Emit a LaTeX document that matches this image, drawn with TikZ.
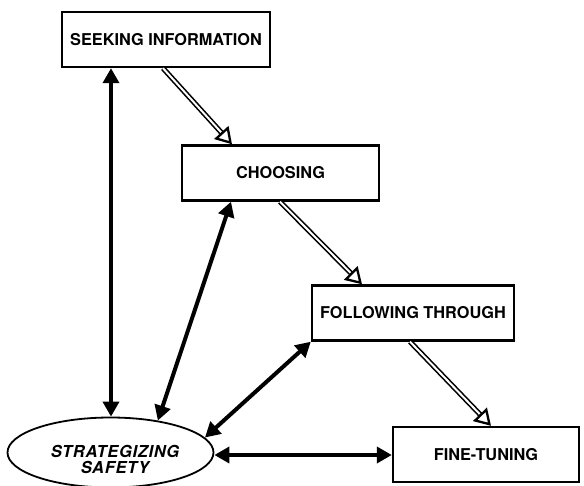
\documentclass[tikz,border=0pt]{standalone}
\usepackage{fontspec}
\setmainfont{TeX Gyre Heros}
\usetikzlibrary{arrows.meta,calc,shapes.geometric}
\begin{document}
\begin{tikzpicture}[x=1pt,y=-1pt,
  stage/.style={draw,line width=2.4pt,minimum width=#1,minimum height=55pt,inner sep=0pt,
    font=\fontsize{16.3}{18}\selectfont\bfseries},
  hub/.style={draw,ellipse,line width=1.8pt,minimum width=206pt,minimum height=70pt,inner sep=0pt},
  hubtext/.style={inner sep=0pt,align=center,
    font=\fontsize{16.5}{16.7}\selectfont\bfseries\itshape\addfontfeatures{LetterSpace=4}},
  link/.style={line width=4pt,{Triangle[length=15pt,width=16pt]}-{Triangle[length=15pt,width=16pt]}},
  flow/.style={draw,double,double distance=2pt,line width=1.6pt},
  flowtip/.style={line width=2.3pt,-{Triangle[open,length=16pt,width=19pt]}}
]
\useasboundingbox (0,0) rectangle (584,486);

% stages of the process
\node[stage=208pt] (seek) at (166,39.5) {SEEKING INFORMATION};
\node[stage=197pt] (choose) at (280.5,173) {CHOOSING};
\node[stage=202pt] (follow) at (413,313) {FOLLOWING THROUGH};
\node[stage=186pt] (tune) at (486,454.5) {FINE-TUNING};
\node[hub] (safe) at (110.5,452.5) {};
\node[hubtext] (safetxt) at (115,459.5) {STRATEGIZING\\SAFETY};

% attachment points on the boxes
\coordinate (s1) at (seek.south -| 111,0);
\coordinate (s2) at (seek.south -| 163,0);
\coordinate (c1) at (choose.north -| 232,0);
\coordinate (c2) at (choose.south -| 231,0);
\coordinate (c3) at (choose.south -| 280,0);
\coordinate (f1) at (follow.north -| 362,0);
\coordinate (f2) at (follow.south west);
\coordinate (f3) at (follow.south -| 410,0);
\coordinate (t1) at (tune.north -| 491,0);
\coordinate (t2) at (tune.west |- 0,455);

% links to the central strategy
\draw[link] (s1) -- (safe.north -| s1);
\draw[link] (c2) -- (safe.34);
\draw[link] (f2) -- (safe.9);
\draw[link] (safe.east |- t2) -- (t2);

% sequential flow between stages
\foreach \a/\b in {s2/c1, c3/f1, f3/t1}{
  \draw[flow,shorten >=15pt] (\a) -- (\b);
  \draw[flowtip] ($(\b)!16pt!(\a)$) -- (\b);
}
\end{tikzpicture}
\end{document}
